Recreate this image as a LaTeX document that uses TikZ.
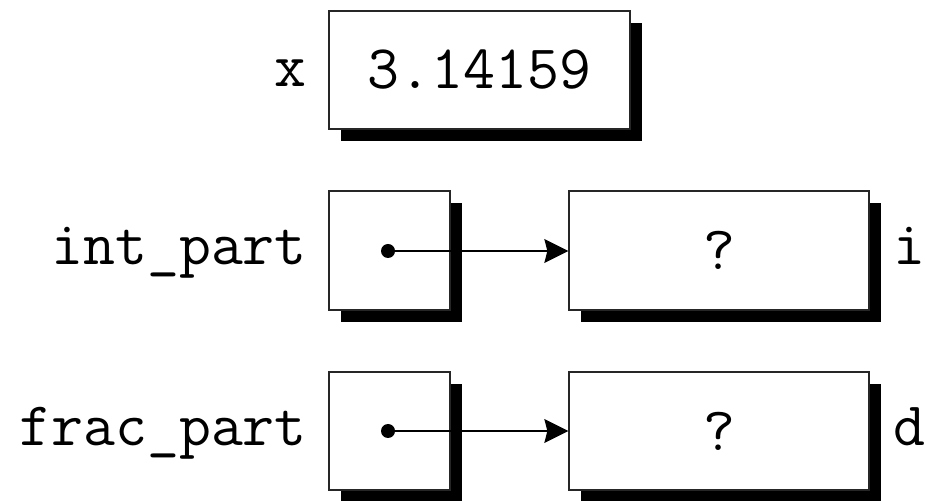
\documentclass[tikz,border=0pt]{standalone}
\usetikzlibrary{arrows.meta,shadows}
\tikzset{
  cell/.style={draw=black!85, line width=1.3pt, fill=white, inner sep=0pt,
    font=\ttfamily\fontsize{62}{70}\selectfont,
    general shadow={fill=black, shadow xshift=12pt, shadow yshift=-12pt}},
  lbl/.style={inner sep=0pt, font=\ttfamily\fontsize{62}{70}\selectfont},
  ptr/.style={-{Stealth[length=24pt,width=24pt,inset=3pt]}, line width=1.2pt},
  dotmark/.style={circle, fill=black, inner sep=0pt, minimum size=14pt}
}
\begin{document}
\begin{tikzpicture}[x=1pt,y=1pt]
\useasboundingbox (0,0) rectangle (925,500);
% row 1
\node[cell, minimum width=301pt, minimum height=118pt] (xv) at (479.5,430) {3.14159};
\node[lbl, anchor=base east] (xl) at (307,413) {x};
% row 2
\node[cell, minimum width=121pt, minimum height=119pt] (ip) at (389.5,249.5) {};
\node[cell, minimum width=300pt, minimum height=119pt] (it) at (719,249.5) {?};
\node[lbl, anchor=base east] (il) at (307,235) {int\_part};
\node[lbl, anchor=base west] (ii) at (893,235) {i};
\node[dotmark] (ipd) at (388,249) {};
\draw[ptr] (ipd.center) -- (ipd.center -| it.west);
% row 3
\node[cell, minimum width=121pt, minimum height=118pt] (fp) at (389.5,69) {};
\node[cell, minimum width=300pt, minimum height=118pt] (ft) at (719,69) {?};
\node[lbl, anchor=base east] (fl) at (307,54) {frac\_part};
\node[lbl, anchor=base west] (fd) at (893,54) {d};
\node[dotmark] (fpd) at (388,69) {};
\draw[ptr] (fpd.center) -- (fpd.center -| ft.west);
\end{tikzpicture}
\end{document}
